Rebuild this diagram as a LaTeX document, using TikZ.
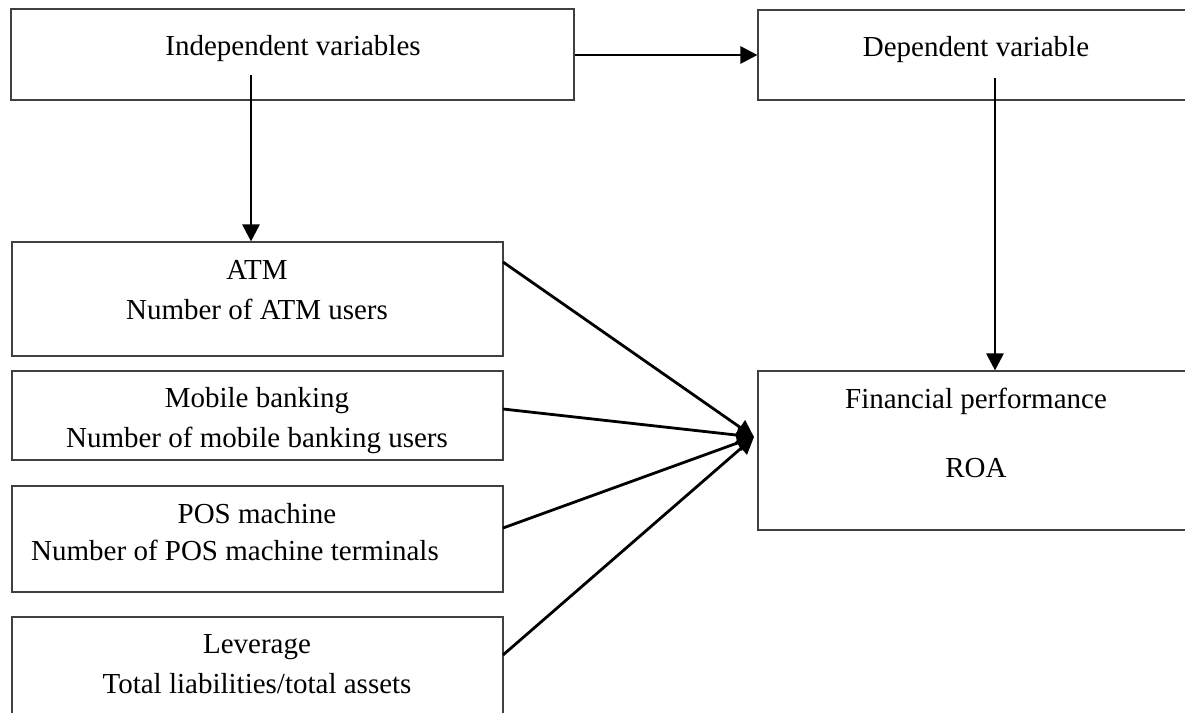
\documentclass[tikz,border=0pt]{standalone}
\usepackage{fontspec}
\setmainfont{Liberation Serif}
\usetikzlibrary{arrows.meta,calc}
\begin{document}
\begin{tikzpicture}[x=0.5pt,y=-0.5pt,
  box/.style={draw=black!75,line width=0.55pt,fill=none},
  lbl/.style={anchor=base,inner sep=0pt,font=\fontsize{14.5}{17}\selectfont},
  arr/.style={line width=1.4pt,-{Triangle[length=8.5pt,width=8.5pt]}}]
\useasboundingbox (0,0) rectangle (1185,713);
% boxes
\node[box,minimum width=281.5pt,minimum height=45.5pt,inner sep=0pt] (indep) at (292.5,54.5) {};
\node[box,minimum width=216pt,minimum height=45pt,inner sep=0pt] (dep) at (974,55) {};
\node[box,minimum width=245.5pt,minimum height=57pt,inner sep=0pt] (atm) at (257.5,299) {};
\node[box,minimum width=245.5pt,minimum height=44.5pt,inner sep=0pt] (mob) at (257.5,415.5) {};
\node[box,minimum width=245.5pt,minimum height=53pt,inner sep=0pt] (pos) at (257.5,539) {};
\node[box,minimum width=245.5pt,minimum height=52pt,inner sep=0pt] (lev) at (257.5,669) {};
\node[box,minimum width=216pt,minimum height=79.5pt,inner sep=0pt] (fin) at (974,450.5) {};
% texts
\node[lbl] (tindep) at (293,55) {Independent variables};
\node[lbl] (tdep) at (976,56) {Dependent variable};
\node[lbl] (tatm1) at (257,279) {ATM};
\node[lbl] (tatm2) at (257,319) {Number of ATM users};
\node[lbl] (tmob1) at (257,407) {Mobile banking};
\node[lbl] (tmob2) at (257,447) {Number of mobile banking users};
\node[lbl] (tpos1) at (257,523) {POS machine};
\node[lbl] (tpos2) at (235,560) {Number of POS machine terminals};
\node[lbl] (tlev1) at (257,653) {Leverage};
\node[lbl] (tlev2) at (257,693) {Total liabilities/total assets};
\node[lbl] (tfin1) at (976,408) {Financial performance};
\node[lbl] (tfin2) at (976,477) {ROA};
% connector ends
\coordinate (s1) at (251,75);
\coordinate (s2) at (995,78);
\coordinate (tip) at (754,437);
\coordinate (oatm) at (503,262);
\coordinate (omob) at (503,409);
\coordinate (opos) at (503,528);
\coordinate (olev) at (503,655);
% connectors
\draw[arr] (indep.east |- 0,55) -- (dep.west |- 0,55);
\draw[arr] (s1) -- (s1 |- atm.north);
\draw[arr] (s2) -- (s2 |- fin.north);
\draw[arr] (oatm) -- (tip);
\draw[arr] (omob) -- (tip);
\draw[arr] (opos) -- (tip);
\draw[arr] (olev) -- (tip);
\end{tikzpicture}
\end{document}
